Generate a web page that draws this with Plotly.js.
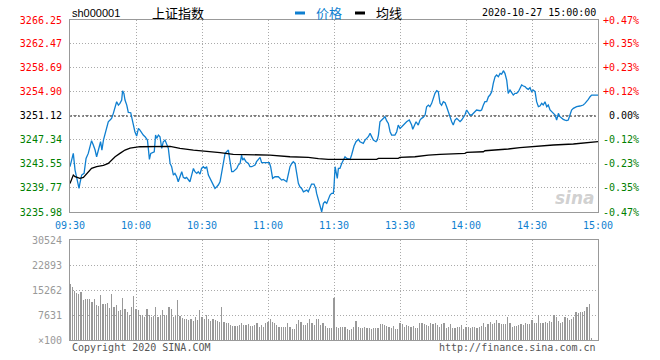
<!DOCTYPE html>
<html><head><meta charset="utf-8">
<script src="https://cdn.plot.ly/plotly-3.0.1.min.js"></script>
<style>html,body{margin:0;padding:0;background:#fff}#chart{width:660px;height:360px}</style>
</head><body><div id="chart"></div>
<script>
const symbol = 'sh000001';
const indexName = '上证指数';
const seriesNames = ['价格', '均线'];
const stamp = '2020-10-27 15:00:00';
const prevClose = 3251.12;
const priceTicks = [3235.98,3239.77,3243.55,3247.34,3251.12,3254.90,3258.69,3262.47,3266.25];
const pctTicks = ['-0.47%','-0.35%','-0.23%','-0.12%','0.00%','+0.12%','+0.23%','+0.35%','+0.47%'];
const timeTicks = [0,30,60,90,120,150,180,210,240];
const timeLabels = ['09:30','10:00','10:30','11:00','11:30','13:30','14:00','14:30','15:00'];
const volTicks = [0,7631,15262,22893,30524];
const volLabels = ['×100','7631','15262','22893','30524'];
const footLeft = 'Copyright 2020 SINA.COM';
const footRight = 'http://finance.sina.com.cn';

// minute index (0 = 09:30, 120 = 11:30/13:00, 240 = 15:00)
const priceT = [
0,1.5,2.3,3,4.1,4.5,5.3,6.4,7.3,8.3,
9.1,9.8,10.6,11.4,12.1,12.6,13.3,13.9,14.5,15.2,
15.9,16.7,17.4,18.2,18.9,19.7,20.5,21.2,22,22.7,
23.5,23.9,24.5,25,25.8,26.5,27.6,28,28.8,29.5,
30.3,31.1,31.8,32.6,33.3,34.1,35.2,35.6,36.1,36.7,
37.6,38.3,38.9,39.4,40.2,40.9,41.7,42.4,43.2,43.9,
44.7,45.5,46.2,47,47.7,48.5,49.2,50,50.8,51.5,
52.3,53,53.8,54.5,55.3,56.1,56.8,57.6,58.3,59.1,
59.8,60.6,61.4,62.1,62.9,63.6,64.4,65.2,65.9,66.7,
67.4,68.2,68.9,69.7,70.5,71.2,72,72.4,73,73.5,
74.2,75,75.8,76.5,77.3,78,78.5,79.1,80,81.1,
81.8,82.6,83.3,84.1,84.8,85.6,86.4,87.1,90.6,91.2,
92.1,93.2,94.7,96.2,97,98.5,99.2,100,100.8,101.5,
102.3,103,103.8,104.5,105.3,106.1,107.6,108.3,109.1,109.8,
110.9,111.7,112.1,112.9,113.6,114.4,115.2,115.9,116.7,117.4,
118.2,118.9,119.7,120,120.5,120.9,121.5,122,122.7,123.5,
124.2,125,125.8,127.3,128,129.1,130,131.1,131.8,133.3,
134.1,135.6,136.4,137.1,137.9,139.1,139.7,140.2,140.9,141.7,
142.4,143.2,143.9,144.7,145.5,146.2,147.7,148.5,149.2,150,
150.8,151.5,153,154.2,155.3,155.8,156.4,157.3,158.3,159.1,
159.8,160.6,161.4,162.1,162.9,163.6,164.4,165.2,165.9,166.7,
167.4,168.2,168.9,169.7,170.5,171.2,172,172.7,173.5,174.2,
175,175.8,176.5,177.3,178,178.8,179.5,180.3,181.1,181.8,
182.6,183.3,184.8,186.4,187.1,187.9,188.6,189.4,190.2,190.9,
191.7,192.4,193.2,193.9,194.7,195.5,196.2,197,197.7,198.5,
199.2,200,200.8,201.5,202.3,203,203.8,204.5,205.3,206.1,
206.8,207.6,208.3,209.1,209.8,210.6,211.4,212.1,212.9,213.6,
214.4,215.1,215.9,216.7,217.4,218.2,218.9,219.7,220.5,221.2,
222,222.7,223.5,224.2,225,225.8,226.5,227.3,228,228.8,
230.3,231.8,233.3,234.1,234.8,235.6,236.4,237.1,240
];
const priceV = [
3243.12,3245.22,3242.59,3241.54,3239.70,3240.49,3241.80,3242.07,3244.43,3245.22,
3246.27,3247.22,3246.53,3245.75,3244.69,3245.22,3246.27,3247.06,3245.75,3247.32,
3248.37,3249.43,3250.21,3250.48,3250.74,3251.53,3252.58,3253.37,3252.84,3253.11,
3253.63,3255.10,3254.68,3253.63,3252.84,3251.69,3251.63,3251.00,3249.43,3248.64,
3247.95,3249.16,3248.90,3248.37,3248.11,3247.85,3247.32,3246.01,3244.27,3245.22,
3245.33,3245.48,3248.11,3247.59,3248.11,3247.85,3246.01,3247.06,3247.32,3246.53,
3246.01,3243.64,3243.12,3241.80,3242.07,3241.54,3240.75,3241.54,3242.33,3241.44,
3241.28,3241.44,3241.01,3240.75,3241.80,3242.85,3242.33,3242.07,3242.33,3241.96,
3242.85,3243.12,3242.85,3243.12,3241.80,3241.28,3240.75,3240.23,3239.70,3239.96,
3240.23,3240.75,3242.07,3244.17,3245.22,3245.48,3245.75,3244.69,3243.12,3242.33,
3242.33,3242.59,3242.85,3243.38,3243.64,3244.96,3244.17,3244.43,3243.91,3243.64,
3243.12,3243.12,3243.22,3243.38,3243.91,3244.17,3244.59,3243.75,3243.75,3243.12,
3241.28,3241.54,3241.54,3241.01,3241.12,3240.75,3242.07,3243.12,3243.64,3243.91,
3243.64,3242.07,3240.49,3239.96,3239.70,3239.17,3239.44,3239.17,3239.70,3240.38,
3240.38,3239.70,3238.91,3237.86,3236.81,3236.02,3237.34,3237.60,3237.34,3238.12,
3238.65,3238.91,3238.91,3239.96,3243.12,3242.33,3241.28,3242.85,3242.85,3243.64,
3244.17,3244.69,3244.43,3244.27,3244.96,3246.38,3247.06,3247.43,3247.06,3246.80,
3247.32,3247.85,3248.37,3247.85,3247.32,3247.06,3247.32,3248.11,3250.21,3250.48,
3250.74,3251.00,3250.37,3249.95,3248.64,3248.11,3248.11,3248.64,3249.69,3249.16,
3249.43,3249.69,3250.21,3250.48,3249.69,3249.01,3249.43,3250.21,3249.69,3250.48,
3250.74,3250.90,3251.27,3252.58,3252.84,3252.58,3253.11,3254.16,3254.68,3255.10,
3254.95,3253.11,3252.80,3253.37,3253.21,3252.58,3251.70,3250.74,3250.22,3249.69,
3250.48,3250.74,3250.48,3250.22,3250.48,3251.01,3251.27,3252.06,3251.53,3251.27,
3251.27,3251.53,3252.06,3251.95,3252.06,3252.85,3253.37,3253.37,3254.16,3254.42,
3254.95,3256.26,3257.31,3257.58,3257.31,3257.84,3257.73,3258.26,3257.84,3256.79,
3254.69,3255.21,3254.69,3254.42,3254.69,3254.69,3254.95,3255.47,3256.00,3255.84,
3255.74,3255.47,3255.32,3255.58,3254.95,3255.21,3254.95,3253.37,3252.58,3252.69,
3253.11,3252.85,3253.37,3252.58,3252.85,3252.06,3251.79,3251.53,3251.27,3250.48,
3251.53,3251.01,3250.74,3250.59,3250.48,3250.38,3250.48,3251.27,3252.06,3252.32,
3252.58,3252.69,3252.85,3253.11,3253.37,3253.74,3254.16,3254.42,3254.42
];
const avgT = [0,1.5,2.3,4.5,6.1,7.6,9.8,12.1,15.2,17.4,18.9,20.5,22.7,25,27.3,29.5,31.8,45.5,50,56.1,
62.1,68.2,74.2,86.4,90.9,100,108.3,112.9,117.4,139.4,140.2,149.2,150,156.8,162.9,168.2,172,179.5,180.3,187.9,
188.6,195.5,199.2,204.5,209.1,214.4,219.7,228.8,234.8,240];
const avgV = [3240.49,3241.80,3241.54,3241.28,3241.44,3242.07,3242.85,3243.12,3243.33,3243.64,3244.17,3244.69,3245.22,3245.75,3246.06,3246.22,3246.27,3246.32,3246.01,3245.75,
3245.59,3245.33,3245.06,3245.01,3244.96,3244.69,3244.59,3244.38,3244.27,3244.27,3244.43,3244.43,3244.59,3244.69,3244.96,3245.06,3245.15,3245.22,3245.38,3245.48,
3245.64,3245.75,3245.91,3246.12,3246.27,3246.43,3246.54,3246.70,3246.91,3247.06];
// volume per minute (x100), index = minute
const volume = [
17094,16280,15059,14245,14041,14754,12210,12515,12515,12515,
11498,12515,10684,10378,13736,10989,10989,11396,9666,14041,
9971,10684,8954,9157,12719,9361,8649,7631,9971,13431,
9564,9157,7631,7631,7122,9361,7631,6919,7326,10175,
6919,7529,9157,7631,7529,9971,9361,7122,7326,12210,
7326,6614,6308,6308,6105,6308,5901,6919,6105,9157,
6919,6308,7631,6308,5901,6308,6105,5799,5392,10175,
5596,5087,5087,4578,4273,4273,4375,4578,5087,4578,
4578,4884,4375,4273,4578,5087,4070,4578,4070,5087,
5494,6308,5494,5087,4578,3866,4070,4070,4070,5087,
3866,3459,3459,4782,6105,5596,4680,4578,5087,6308,
5291,4578,6308,6308,4578,5087,4273,3765,3765,3765,
12719,
4070,3765,3866,3866,3866,3256,3052,3357,4070,5901,
4070,3765,3765,3866,3765,3561,3459,3561,3765,3561,
4884,4782,4578,4273,4070,3561,4273,3357,3357,5291,
4884,4070,4578,4273,4070,4273,3561,3561,5087,5087,
4884,4578,4273,5087,4782,5087,4578,4070,4782,5087,
3765,4070,4884,3765,3561,3866,4070,4578,3459,3866,
3968,3561,4070,3866,3561,4070,4273,5087,3866,4884,
5596,4884,5291,6105,5087,4884,4884,4884,6919,5291,
4070,4273,4273,4578,4884,4578,5087,4782,4782,6105,
5087,5087,7631,5087,5291,5596,5087,5901,5596,7631,
6919,5901,5291,5596,6919,6614,6105,6308,6919,8649,
8344,8649,8649,8954,9971,10989,509
];

const BLUE = '#0f7fd0', RED = '#ff0000', GREEN = '#008000', GRID = '#aaaaaa', FRAME = '#999999';
const MONO = 'DejaVu Sans Mono';
const CJK = 'Noto Sans CJK SC';
function priceColor(v){ return v > prevClose + 1e-6 ? RED : (v < prevClose - 1e-6 ? GREEN : '#000'); }
function pctColor(s){ return s.charAt(0) === '+' ? RED : (s.charAt(0) === '-' ? GREEN : '#000'); }

const leftText = priceTicks.map(v => '<span style="color:' + priceColor(v) + '">' + v.toFixed(2) + '</span>');
const rightText = pctTicks.map(s => '<span style="color:' + pctColor(s) + '">' + (s.charAt(0) === '0' ? '\u00a0' : '') + s + '</span>');

const traces = [
  {type:'scatter', mode:'lines', x:priceT, y:priceV, xaxis:'x', yaxis:'y', name:seriesNames[0],
   line:{color:BLUE, width:1.3}, hoverinfo:'skip'},
  {type:'scatter', mode:'lines', x:avgT, y:avgV, xaxis:'x', yaxis:'y', name:seriesNames[1],
   line:{color:'#000', width:1.3}, hoverinfo:'skip'},
  {type:'scatter', mode:'markers', x:[priceT[0]], y:[prevClose], xaxis:'x', yaxis:'y3',
   marker:{opacity:0}, hoverinfo:'skip', showlegend:false},
  {type:'bar', x:volume.map((v,i)=>i), y:volume, xaxis:'x2', yaxis:'y2',
   marker:{color:'#999999', line:{width:0}}, width:0.5, hoverinfo:'skip'}
];

const gridCommon = {showgrid:true, gridcolor:GRID, griddash:'1px,2px', gridwidth:1,
  showline:true, mirror:true, linecolor:FRAME, linewidth:1, zeroline:false, ticks:'', fixedrange:true};

const pxX = p => (p - 70) / 528;
const pxY = p => (340 - p) / 320;

const layout = {
  width:660, height:360,
  margin:{l:70, r:62, t:20, b:20, pad:0},
  paper_bgcolor:'#fff', plot_bgcolor:'#fff',
  showlegend:false, bargap:0,
  font:{family:MONO, size:10, color:'#000'},
  xaxis:Object.assign({}, gridCommon, {domain:[0,1], anchor:'y', range:[0,240], tickmode:'array',
    tickvals:timeTicks, ticktext:timeLabels, tickfont:{family:MONO, size:10, color:BLUE}, ticklabelstandoff:4}),
  xaxis2:Object.assign({}, gridCommon, {domain:[0,1], anchor:'y2', range:[0,240], tickmode:'array',
    tickvals:timeTicks, showticklabels:false}),
  yaxis:Object.assign({}, gridCommon, {domain:[0.4,1], anchor:'x', range:[priceTicks[0], priceTicks[priceTicks.length-1]],
    tickmode:'array', tickvals:priceTicks, ticktext:leftText, tickfont:{family:MONO, size:10}, ticklabelstandoff:5}),
  yaxis3:{overlaying:'y', side:'right', anchor:'x', range:[priceTicks[0], priceTicks[priceTicks.length-1]],
    tickmode:'array', tickvals:priceTicks, ticktext:rightText, tickfont:{family:MONO, size:10},
    showgrid:false, showline:false, zeroline:false, ticks:'', ticklabelstandoff:4, fixedrange:true},
  yaxis2:Object.assign({}, gridCommon, {domain:[0,0.3125], anchor:'x2', range:[0, volTicks[volTicks.length-1]],
    tickmode:'array', tickvals:volTicks, ticktext:volLabels, tickfont:{family:MONO, size:10, color:'#999999'}, ticklabelstandoff:5}),
  shapes:[
    {type:'line', xref:'paper', x0:0, x1:1, yref:'y', y0:prevClose, y1:prevClose, layer:'below',
     line:{color:'#000', width:1, dash:'2px,2px'}},
    {type:'line', xref:'paper', x0:pxX(295), x1:pxX(305), yref:'paper', y0:pxY(13), y1:pxY(13), line:{color:BLUE, width:3}},
    {type:'line', xref:'paper', x0:pxX(355), x1:pxX(365), yref:'paper', y0:pxY(13), y1:pxY(13), line:{color:'#000', width:3}}
  ],
  annotations:[
    {xref:'paper', yref:'paper', x:0, y:pxY(13), xanchor:'left', yanchor:'middle', showarrow:false,
     text:symbol, font:{family:'Liberation Sans', size:11, color:'#000'}},
    {xref:'paper', yref:'paper', x:pxX(150), y:pxY(13), xanchor:'left', yanchor:'middle', showarrow:false,
     text:indexName, font:{family:CJK, size:13, color:'#000'}},
    {xref:'paper', yref:'paper', x:pxX(314), y:pxY(13), xanchor:'left', yanchor:'middle', showarrow:false,
     text:seriesNames[0], font:{family:CJK, size:13, color:BLUE}},
    {xref:'paper', yref:'paper', x:pxX(374), y:pxY(13), xanchor:'left', yanchor:'middle', showarrow:false,
     text:seriesNames[1], font:{family:CJK, size:13, color:'#000'}},
    {xref:'paper', yref:'paper', x:pxX(598), y:pxY(13), xanchor:'right', yanchor:'middle', showarrow:false,
     text:stamp, font:{family:MONO, size:10, color:'#000'}},
    {xref:'paper', yref:'paper', x:0, y:pxY(347), xanchor:'left', yanchor:'middle', showarrow:false,
     text:footLeft, font:{family:MONO, size:10, color:'#555'}},
    {xref:'paper', yref:'paper', x:1, y:pxY(347), xanchor:'right', yanchor:'middle', showarrow:false,
     text:footRight, font:{family:MONO, size:10, color:'#555'}},
    {xref:'paper', yref:'paper', x:pxX(597), y:pxY(198), xanchor:'right', yanchor:'middle', showarrow:false,
     text:'<b><i>sina</i></b>', font:{family:'DejaVu Sans', size:17, color:'rgba(150,150,150,0.45)'}}
  ]
};

Plotly.newPlot('chart', traces, layout, {staticPlot:true, displayModeBar:false});
</script></body></html>
